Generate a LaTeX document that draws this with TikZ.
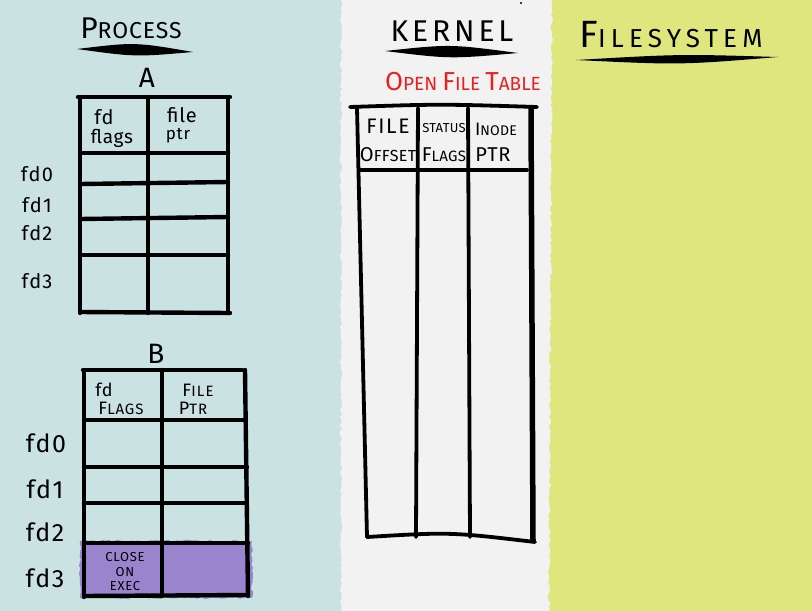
\documentclass[tikz,border=0pt]{standalone}
\usepackage{fontspec}
\usetikzlibrary{decorations.pathmorphing}
\setmainfont{Fira Sans}
\newcommand{\fs}[1]{\fontsize{#1}{#1}\selectfont}
\newcommand{\ls}[1]{\addfontfeature{LetterSpace=#1}}
\definecolor{procbg}{RGB}{203,226,226}
\definecolor{kernbg}{RGB}{242,242,242}
\definecolor{fsbg}{RGB}{223,230,125}
\definecolor{cloexec}{RGB}{155,132,206}
\definecolor{otred}{RGB}{232,32,32}
\tikzset{
  tbl/.style={line width=4.4pt, line cap=round, draw=black},
  ktbl/.style={line width=3.8pt, line cap=round, draw=black},
  lbl/.style={inner sep=0pt, outer sep=0pt, anchor=center},
  fdlbl/.style={inner sep=0pt, anchor=center, font=\fs{20}\ls{6}},
  hdr/.style={inner sep=0pt, anchor=center},
  ragged/.style={decorate, decoration={random steps, segment length=3pt, amplitude=1.2pt}},
}
\pgfmathsetseed{7}
\begin{document}
\begin{tikzpicture}[x=1pt,y=-1pt]
\useasboundingbox (0,0) rectangle (812,611);
% backgrounds
\begin{scope}
\clip (0,0) rectangle (812,611);
\fill[procbg] (0,0) rectangle (812,611);
\fill[fsbg] (545,0) rectangle (812,611);
\fill[kernbg, ragged] (341,-10) -- (341,621) -- (549,621) -- (552,-10) -- cycle;
\end{scope}
\fill[black] (521,3) circle (1.2);

% ===== PROCESS =====
\node[lbl] (proc) at (131,28) {\fs{30}\ls{4}P\fs{23}ROCESS};
\fill (77,49) .. controls (135,42) .. (193,52) .. controls (135,57) .. (77,49) -- cycle;

\node[lbl] (A) at (147,78) {\fs{28}A};
% table A
\draw[tbl] (78,97) -- (230,97);
\draw[tbl] (80,97) -- (80,313);
\draw[tbl] (148,97) -- (148,313);
\draw[tbl] (228,97) -- (228,313);
\draw[tbl] (80,153) -- (228,153);
\draw[tbl] (80,184) -- (228,182);
\draw[tbl] (80,219) -- (228,217);
\draw[tbl] (80,255) -- (228,255);
\draw[tbl] (80,312) -- (230,313);
\node[hdr, font=\fs{20}\ls{4}] (Ah1a) at (104,117) {fd};
\node[hdr, font=\fs{19}\ls{4}] (Ah1b) at (112,138) {flags};
\node[hdr, font=\fs{20}\ls{4}] (Ah2a) at (182,115) {file};
\node[hdr, font=\fs{17}\ls{4}] (Ah2b) at (178,136) {ptr};
\node[fdlbl] (A0) at (37,174) {fd0};
\node[fdlbl] (A1) at (37,205) {fd1};
\node[fdlbl] (A2) at (37,233) {fd2};
\node[fdlbl] (A3) at (37,281) {fd3};

% table B
\node[lbl] (B) at (156,354) {\fs{28}B};
\fill[cloexec, ragged] (80,541) rectangle (252,598);
\draw[tbl] (83,370) -- (242,370);
\draw[tbl] (84,370) -- (84,597);
\draw[tbl] (162,370) -- (162,596);
\draw[tbl] (245,370) -- (248,596);
\draw[tbl] (84,420) -- (246,420);
\draw[tbl] (84,467) -- (247,467);
\draw[tbl] (84,503) -- (247,503);
\draw[tbl] (84,543) -- (248,543);
\draw[tbl] (84,596) -- (248,595);
\node[hdr, font=\fs{18}\ls{4}] (Bh1a) at (104,390) {fd};
\node[hdr, font=\fs{18}\ls{6}] (Bh1b) at (121,408) {F\fs{15}LAGS};
\node[hdr, font=\fs{18}\ls{8}] (Bh2a) at (198,390) {F\fs{15}ILE};
\node[hdr, font=\fs{18}\ls{6}] (Bh2b) at (193,408) {P\fs{15}TR};
\node[fdlbl, font=\fs{25}\ls{6}] (B0) at (46,443) {fd0};
\node[fdlbl, font=\fs{25}\ls{6}] (B1) at (45,489) {fd1};
\node[fdlbl, font=\fs{25}\ls{6}] (B2) at (45,532) {fd2};
\node[fdlbl, font=\fs{25}\ls{6}] (B3) at (45,578) {fd3};
\node[hdr, font=\fs{13}\ls{6}] (Bce1) at (125,557) {CLOSE};
\node[hdr, font=\fs{13}\ls{6}] (Bce2) at (125,572) {ON};
\node[hdr, font=\fs{13}\ls{6}] (Bce3) at (125,586) {EXEC};

% ===== KERNEL =====
\node[lbl] (kern) at (452,31) {\fs{30}\ls{13}KERNEL};
\fill (385,51) .. controls (450,44) .. (518,53) .. controls (450,59) .. (385,51) -- cycle;
\node[lbl, text=otred] (oft) at (463,82) {\fs{26}O\fs{19}PEN \fs{26}F\fs{19}ILE \fs{26}T\fs{19}ABLE};
% open file table
\draw[ktbl] (350,107) .. controls (440,104) .. (537,107);
\draw[ktbl] (357,108) -- (367,537);
\draw[ktbl] (418,108) -- (416,537);
\draw[ktbl] (468,108) -- (470,537);
\draw[ktbl, line width=5.5pt] (531,108) -- (533,540);
\draw[ktbl] (361,170) -- (527,170);
\draw[ktbl] (367,537) .. controls (450,532) .. (535,542);
\node[hdr, font=\fs{21}\ls{8}] (kh1a) at (388,126) {FILE};
\node[hdr, font=\fs{20}\ls{2}] (kh1b) at (388,155) {O\fs{16}FFSET};
\node[hdr, font=\fs{13}\ls{2}] (kh2a) at (444,128) {STATUS};
\node[hdr, font=\fs{20}\ls{2}] (kh2b) at (444,155) {F\fs{15}LAGS};
\node[hdr, font=\fs{18}\ls{2}] (kh3a) at (496,129) {I\fs{14}NODE};
\node[hdr, font=\fs{20}\ls{4}] (kh3b) at (493,155) {PTR};

% ===== FILESYSTEM =====
\node[lbl] (fsys) at (671,35) {\fs{38}\ls{20}F\fs{26}ILESYSTEM};
\fill (576,60) .. controls (680,54) .. (778,57) .. controls (680,65) .. (576,60) -- cycle;
\end{tikzpicture}
\end{document}
